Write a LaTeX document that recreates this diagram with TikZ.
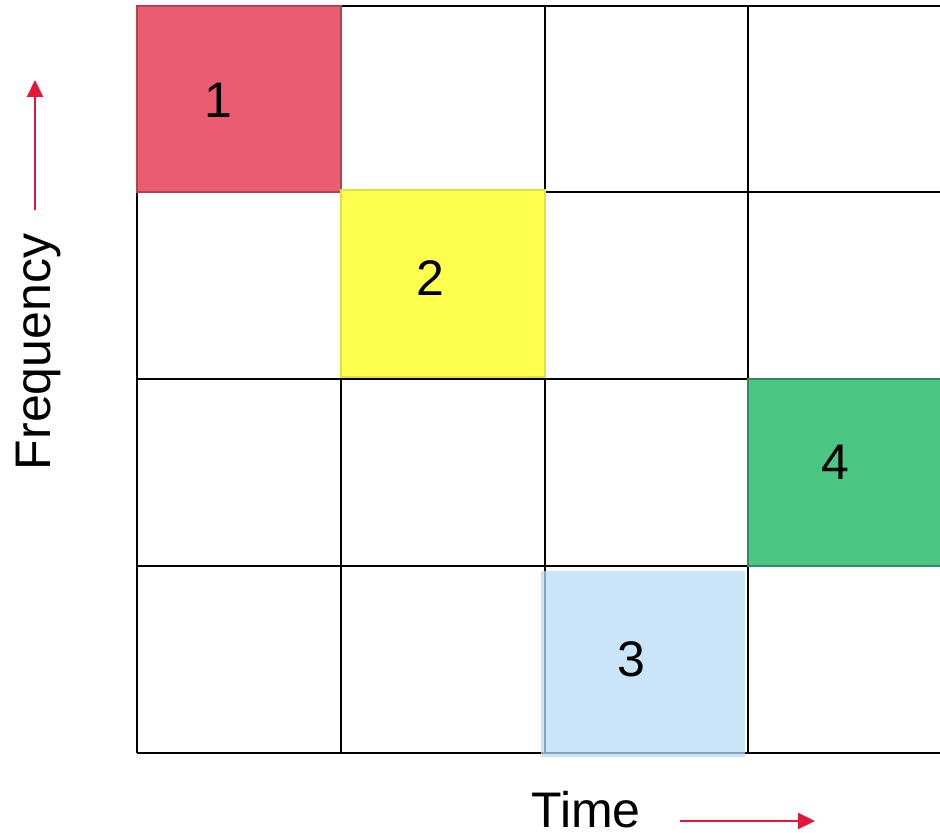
\documentclass[tikz,border=0pt]{standalone}
\usepackage{fontspec}
\setmainfont{Liberation Sans}
\usetikzlibrary{arrows.meta}
\definecolor{slotred}{RGB}{234,92,112}
\definecolor{slotyellow}{RGB}{255,255,77}
\definecolor{slotblue}{RGB}{184,219,248}
\definecolor{slotgreen}{RGB}{76,198,131}
\definecolor{arrowred}{RGB}{228,22,58}
\begin{document}
\begin{tikzpicture}[x=0.5pt,y=-0.5pt,>={Triangle[length=8.5pt,width=8pt]},
        grid line/.style={line width=1.1pt,black},
        slot/.style={line width=0.6pt},
        num/.style={font=\fontsize{25}{30}\selectfont},
        axis label/.style={font=\fontsize{25}{30}\selectfont,inner sep=0pt},
        red arrow/.style={->,draw=arrowred,line width=1pt}]
        \useasboundingbox (0,0) rectangle (940,833);
        % time-frequency grid
        \foreach \y in {6,192,379,566,753}
            \draw[grid line] (137,\y) -- (940,\y);
        \foreach \x in {137,341,545,748}
            \draw[grid line] (\x,6) -- (\x,753);
        % occupied slots
        \filldraw[slot, fill=slotred, draw=slotred!75!black] (137,6) rectangle (341,192);
        \filldraw[slot, fill=slotyellow, draw=slotyellow!88!black] (341,190) rectangle (545,377);
        \fill[slotblue, fill opacity=0.75] (541,571) rectangle (745,757);
        \filldraw[slot, fill=slotgreen, draw=slotgreen!70!black] (748,379) rectangle (942,566);
        \node[num] (n1) at (218,100) {1};
        \node[num] (n2) at (430,278) {2};
        \node[num] (n3) at (631,659) {3};
        \node[num] (n4) at (835,462) {4};
        % axes
        \node[axis label, rotate=90] (freq) at (38,352) {Frequency};
        \node[axis label] (time) at (586,810) {Time};
        \coordinate (freqstart) at (35,210);
        \coordinate (freqend) at (35,80);
        \coordinate (timestart) at (680,821);
        \coordinate (timeend) at (815,821);
        \draw[red arrow] (freqstart) -- (freqend);
        \draw[red arrow] (timestart) -- (timeend);
    \end{tikzpicture}
\end{document}
